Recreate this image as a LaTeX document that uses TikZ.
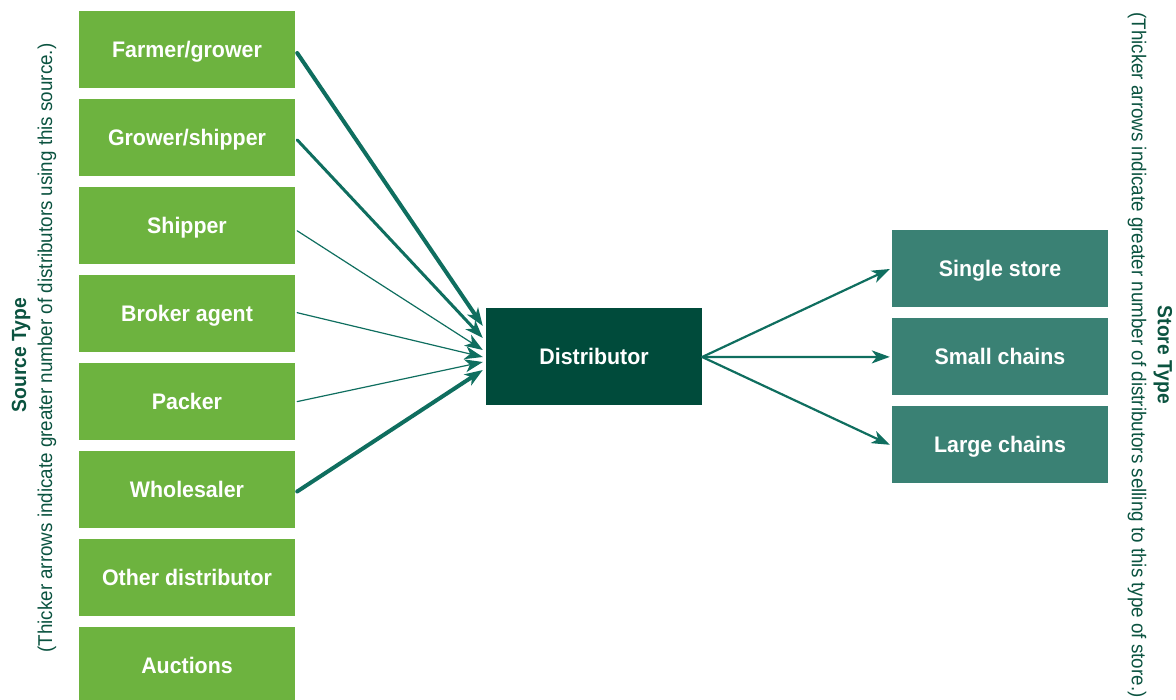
\documentclass[tikz,border=0pt]{standalone}
\usepackage{fontspec}
\setmainfont{Liberation Sans}[FakeStretch=0.95]
\newfontfamily\sidefont{Liberation Sans}[FakeStretch=0.94]
\usepackage{tikz}
\usetikzlibrary{arrows.meta,positioning}

\definecolor{srcgreen}{HTML}{6DB33F}
\definecolor{distgreen}{HTML}{004B3B}
\definecolor{storegreen}{HTML}{3A8174}
\definecolor{arrowgreen}{HTML}{0F6E5F}
\definecolor{labelgreen}{HTML}{0B5340}

\begin{document}
\begin{tikzpicture}[
      x=1pt, y=1pt,
      node distance=10.5pt,
      box/.style={fill=srcgreen, text=white, inner sep=0pt, align=center, font=\fontsize{22.5}{26}\selectfont\bfseries, text height=16pt, text depth=0pt, minimum width=216pt, minimum height=77pt},
      arrow/.style={draw=arrowgreen, line cap=round, -{Stealth[length=18pt, width=13pt, inset=5pt]}},
      sidelabel/.style={text=labelgreen, align=center, inner sep=0pt}
      ]
      \useasboundingbox (0,0) rectangle (1176,-700);

      % Source nodes
      \node (farmer) [box] at (187,-50) {Farmer/grower};
      \node (growship) [box, below=of farmer] {Grower/shipper};
      \node (shipper) [box, below=of growship] {Shipper};
      \node (broker) [box, below=of shipper] {Broker agent};
      \node (packer) [box, below=of broker] {Packer};
      \node (wholesale) [box, below=of packer] {Wholesaler};
      \node (otherdist) [box, below=of wholesale] {Other distributor};
      \node (auctions) [box, below=of otherdist] {Auctions};

      % Distributor
      \node (dist) [box, fill=distgreen, minimum height=97pt] at (594,-357) {Distributor};

      % Store nodes
      \node (single) [box, fill=storegreen] at (1000,-269) {Single store};
      \node (small) [box, fill=storegreen, below=of single] {Small chains};
      \node (large) [box, fill=storegreen, below=of small] {Large chains};

      % Side labels
      \node (srctitle) [sidelabel, rotate=90, font=\sidefont\fontsize{20.5}{24}\selectfont\bfseries] at (21,-355) {Source Type};
      \node (srcnote) [sidelabel, rotate=90, font=\sidefont\fontsize{20}{23}\selectfont] at (47,-348) {(Thicker arrows indicate greater number of distributors using this source.)};
      \node (storetitle) [sidelabel, rotate=-90, font=\sidefont\fontsize{20.5}{24}\selectfont\bfseries] at (1163,-355) {Store Type};
      \node (storenote) [sidelabel, rotate=-90, font=\sidefont\fontsize{20}{23}\selectfont] at (1137,-355) {(Thicker arrows indicate greater number of distributors selling to this type of store.)};

      % Arrows into distributor
      \draw [arrow, line width=4pt] ([xshift=2pt,yshift=-3pt]farmer.east) -- ([xshift=-3pt,yshift=31pt]dist.west);
      \draw [arrow, line width=3pt] ([xshift=2pt,yshift=-2pt]growship.east) -- ([xshift=-3pt,yshift=19pt]dist.west);
      \draw [arrow, line width=1.2pt] ([xshift=2pt,yshift=-5pt]shipper.east) -- ([xshift=-3pt,yshift=7pt]dist.west);
      \draw [arrow, line width=1.2pt] ([xshift=2pt,yshift=1pt]broker.east) -- ([xshift=-3pt,yshift=0pt]dist.west);
      \draw [arrow, line width=1.2pt] ([xshift=2pt,yshift=0pt]packer.east) -- ([xshift=-3pt,yshift=-5pt]dist.west);
      \draw [arrow, line width=4pt] ([xshift=2pt,yshift=-2pt]wholesale.east) -- ([xshift=-3pt,yshift=-13pt]dist.west);

      % Arrows to stores
      \draw [arrow, line width=2.2pt] (dist.east) -- ([xshift=-2pt]single.west);
      \draw [arrow, line width=2.2pt] (dist.east) -- ([xshift=-2pt]small.west);
      \draw [arrow, line width=2.2pt] (dist.east) -- ([xshift=-2pt]large.west);

    \end{tikzpicture}
\end{document}
